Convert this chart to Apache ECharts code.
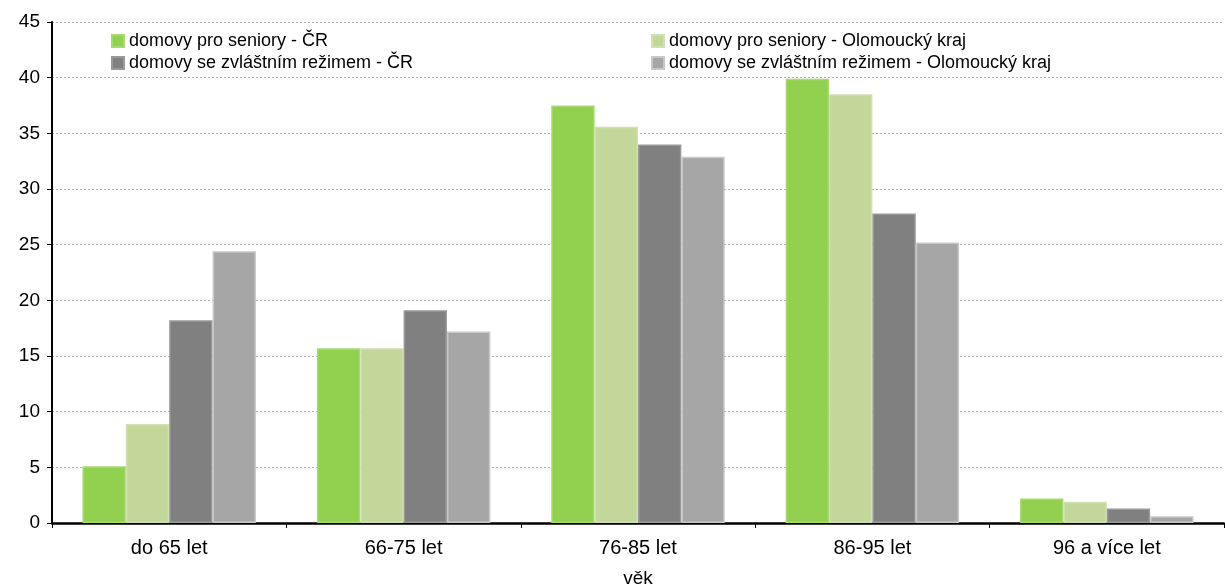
<!DOCTYPE html>
<html>
<head>
<meta charset="utf-8">
<script src="https://cdn.jsdelivr.net/npm/echarts@6/dist/echarts.min.js"></script>
<style>
  html, body { margin: 0; padding: 0; background: #fff; }
  #main { width: 1225px; height: 588px; }
</style>
</head>
<body>
<div id="main"></div>
<script>
// věkové skupiny
const categories = ["do 65 let", "66-75 let", "76-85 let", "86-95 let", "96 a více let"];
const seniorCR = [5.1, 15.7, 37.5, 39.9, 2.2];
const seniorOlom = [8.9, 15.7, 35.6, 38.5, 1.9];
const rezimCR = [18.2, 19.1, 34.0, 27.8, 1.3];
const rezimOlom = [24.4, 17.2, 32.9, 25.2, 0.6];
const names = [
  "domovy pro seniory - ČR",
  "domovy pro seniory - Olomoucký kraj",
  "domovy se zvláštním režimem - ČR",
  "domovy se zvláštním režimem - Olomoucký kraj"
];

const chart = echarts.init(document.getElementById("main"));
const font = "Liberation Sans, Arial, sans-serif";

function bar(name, data, color, border) {
  return {
    name: name,
    type: "bar",
    data: data,
    barGap: "0%",
    barCategoryGap: "26%",
    itemStyle: { color: color, borderColor: border, borderWidth: 1.5 },
    emphasis: { disabled: true }
  };
}

const legendText = { fontFamily: font, fontSize: 18, color: "#000" };

chart.setOption({
  animation: false,
  textStyle: { fontFamily: font },
  legend: [
    {
      left: 106, top: 27, orient: "vertical", itemGap: 4,
      itemWidth: 12, itemHeight: 12, icon: "rect",
      textStyle: legendText, selectedMode: false,
      data: [names[0], names[2]]
    },
    {
      left: 646, top: 27, orient: "vertical", itemGap: 4,
      itemWidth: 12, itemHeight: 12, icon: "rect",
      textStyle: legendText, selectedMode: false,
      data: [names[1], names[3]]
    }
  ],
  grid: { left: 52, right: 1, top: 22, bottom: 65, outerBoundsMode: "none", containLabel: false },
  xAxis: {
    type: "category",
    data: categories,
    name: "věk",
    nameLocation: "middle",
    nameGap: 46,
    nameTextStyle: { fontSize: 19, color: "#000", fontFamily: font },
    axisLine: { lineStyle: { color: "#000", width: 2.5 } },
    axisTick: { show: true, length: 5, lineStyle: { color: "#000" } },
    axisLabel: { fontSize: 20, color: "#000", margin: 15 }
  },
  yAxis: {
    type: "value",
    min: 0, max: 45, interval: 5,
    axisLine: { show: true, lineStyle: { color: "#000", width: 2 } },
    axisTick: { show: true, length: 5, lineStyle: { color: "#000" } },
    axisLabel: { fontSize: 19, color: "#000", margin: 12 },
    splitLine: { lineStyle: { color: "#b0b0b0", type: [2, 2], width: 1 } }
  },
  series: [
    bar(names[0], seniorCR, "#92D050", "#a6da70"),
    bar(names[1], seniorOlom, "#C4D79B", "#d0e0b0"),
    bar(names[2], rezimCR, "#808080", "#999999"),
    bar(names[3], rezimOlom, "#A6A6A6", "#c8c8c8")
  ]
});
</script>
</body>
</html>
